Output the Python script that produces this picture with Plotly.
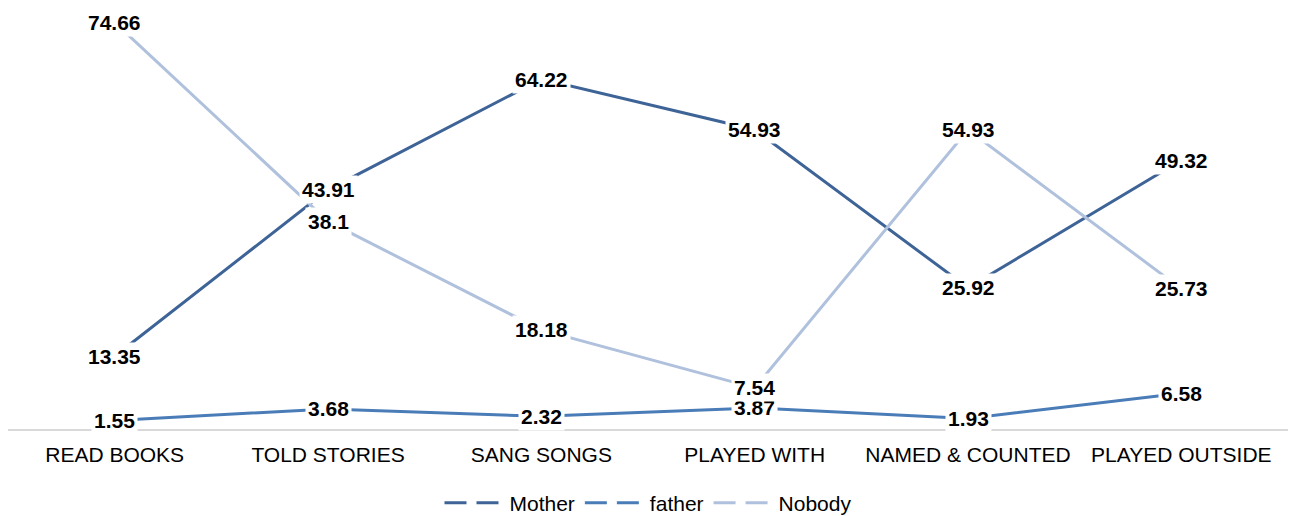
import plotly.graph_objects as go

categories = ["READ BOOKS", "TOLD STORIES", "SANG SONGS", "PLAYED WITH",
              "NAMED & COUNTED", "PLAYED OUTSIDE"]
mother = [13.35, 43.91, 64.22, 54.93, 25.92, 49.32]
father = [1.55, 3.68, 2.32, 3.87, 1.93, 6.58]
nobody = [74.66, 38.1, 18.18, 7.54, 54.93, 25.73]

series_names = ["Mother", "father", "Nobody"]
series_values = [mother, father, nobody]
series_colors = ["#3E6497", "#4A7CB8", "#B0C1DD"]

FONT = "Arial, 'Liberation Sans', sans-serif"

fig = go.Figure()

# solid data lines
for name, vals, col in zip(series_names, series_values, series_colors):
    fig.add_trace(go.Scatter(
        x=categories, y=vals, mode="lines", name=name,
        line=dict(color=col, width=3), showlegend=False, hoverinfo="skip",
    ))

# legend entries with dashed sample glyphs
for name, col in zip(series_names, series_colors):
    fig.add_trace(go.Scatter(
        x=[None], y=[None], mode="lines", name=name,
        line=dict(color=col, width=3, dash="22px,10px"),
    ))

# value labels centred on each point, on white boxes
annotations = []
for vals in series_values:
    for cat, v in zip(categories, vals):
        annotations.append(dict(
            x=cat, y=v, xref="x", yref="y", text=f"{v}", showarrow=False,
            bgcolor="white", borderpad=2,
            font=dict(family=FONT, size=21, color="black", weight="bold"),
        ))

fig.update_layout(
    width=1289, height=516,
    margin=dict(l=8, r=1, t=0, b=87, autoexpand=False),
    paper_bgcolor="white", plot_bgcolor="white",
    font=dict(family=FONT, size=21, color="black"),
    annotations=annotations,
    showlegend=True,
    legend=dict(orientation="h", x=0.5, xanchor="center",
                yref="container", y=0.025, yanchor="middle",
                font=dict(family=FONT, size=21, color="black"),
                itemwidth=60),
    xaxis=dict(type="category", range=[-0.5, 5.5], showgrid=False,
               showline=True, linecolor="#D9D9D9", linewidth=2,
               ticks="", ticklabelstandoff=6,
               tickfont=dict(family=FONT, size=21, color="black"),
               zeroline=False),
    yaxis=dict(range=[0, 78.75], visible=False, showgrid=False, zeroline=False),
)

fig.write_html("out.html")
